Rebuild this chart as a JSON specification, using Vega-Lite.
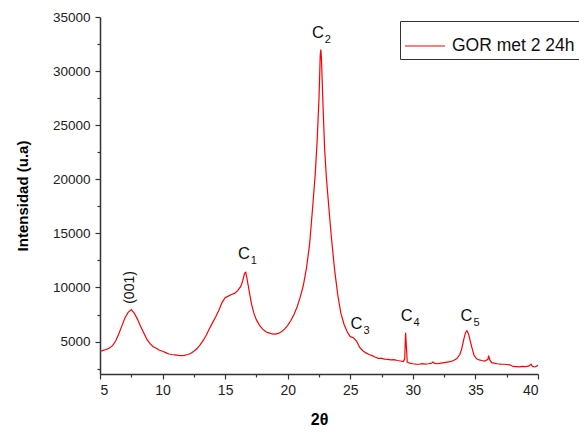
{
  "$schema": "https://vega.github.io/schema/vega-lite/v6.json",
  "autosize": "none",
  "width": 438,
  "height": 357,
  "padding": {"left": 100, "top": 17, "right": 41, "bottom": 58},
  "background": "white",
  "config": {
    "view": {"stroke": null},
    "font": "Liberation Sans",
    "axis": {"grid": false, "domainColor": "#333333", "tickColor": "#333333", "domainWidth": 1.5, "tickWidth": 1.2, "labelColor": "#222222", "labelFont": "Liberation Sans", "titleFont": "Liberation Sans", "titleColor": "#000000"}
  },
  "datasets": {
    "xrd": [
      {"t": 5.0, "i": 4100}, {"t": 5.25, "i": 4180}, {"t": 5.5, "i": 4260}, {"t": 5.75, "i": 4400},
      {"t": 6.0, "i": 4620}, {"t": 6.25, "i": 5050}, {"t": 6.5, "i": 5700}, {"t": 6.75, "i": 6450},
      {"t": 7.0, "i": 7200}, {"t": 7.25, "i": 7700}, {"t": 7.5, "i": 7950}, {"t": 7.75, "i": 7600},
      {"t": 8.0, "i": 7050}, {"t": 8.25, "i": 6400}, {"t": 8.5, "i": 5800}, {"t": 8.75, "i": 5200},
      {"t": 9.0, "i": 4800}, {"t": 9.25, "i": 4520}, {"t": 9.5, "i": 4380}, {"t": 9.75, "i": 4200},
      {"t": 10.0, "i": 4100}, {"t": 10.25, "i": 3980}, {"t": 10.5, "i": 3850}, {"t": 10.75, "i": 3800},
      {"t": 11.0, "i": 3760}, {"t": 11.25, "i": 3720}, {"t": 11.5, "i": 3700}, {"t": 11.75, "i": 3730},
      {"t": 12.0, "i": 3800}, {"t": 12.25, "i": 3900}, {"t": 12.5, "i": 4100}, {"t": 12.75, "i": 4350},
      {"t": 13.0, "i": 4700}, {"t": 13.25, "i": 5100}, {"t": 13.5, "i": 5600}, {"t": 13.75, "i": 6200},
      {"t": 14.0, "i": 6750}, {"t": 14.25, "i": 7300}, {"t": 14.5, "i": 7900}, {"t": 14.75, "i": 8600},
      {"t": 15.0, "i": 9050}, {"t": 15.25, "i": 9200}, {"t": 15.5, "i": 9350}, {"t": 15.75, "i": 9450},
      {"t": 16.0, "i": 9700}, {"t": 16.25, "i": 10100}, {"t": 16.4, "i": 10600}, {"t": 16.55, "i": 11300},
      {"t": 16.65, "i": 11400}, {"t": 16.75, "i": 10800}, {"t": 16.9, "i": 9800}, {"t": 17.1, "i": 8500},
      {"t": 17.3, "i": 7600}, {"t": 17.5, "i": 7000}, {"t": 17.75, "i": 6500}, {"t": 18.0, "i": 6150},
      {"t": 18.25, "i": 5900}, {"t": 18.5, "i": 5800}, {"t": 18.75, "i": 5700}, {"t": 19.0, "i": 5680},
      {"t": 19.25, "i": 5750}, {"t": 19.5, "i": 5900}, {"t": 19.75, "i": 6150}, {"t": 20.0, "i": 6500},
      {"t": 20.25, "i": 6950}, {"t": 20.5, "i": 7500}, {"t": 20.75, "i": 8200}, {"t": 21.0, "i": 9100},
      {"t": 21.25, "i": 10200}, {"t": 21.5, "i": 11800}, {"t": 21.75, "i": 14000}, {"t": 22.0, "i": 17500},
      {"t": 22.2, "i": 20500}, {"t": 22.35, "i": 23500}, {"t": 22.5, "i": 27500}, {"t": 22.6, "i": 31500},
      {"t": 22.65, "i": 32000}, {"t": 22.7, "i": 31000}, {"t": 22.8, "i": 27500}, {"t": 22.95, "i": 22800},
      {"t": 23.1, "i": 20000}, {"t": 23.3, "i": 17200}, {"t": 23.5, "i": 14500}, {"t": 23.75, "i": 11600},
      {"t": 24.0, "i": 9300}, {"t": 24.25, "i": 7600}, {"t": 24.5, "i": 6600}, {"t": 24.75, "i": 5900},
      {"t": 25.0, "i": 5450}, {"t": 25.25, "i": 5350}, {"t": 25.5, "i": 5050}, {"t": 25.75, "i": 4450},
      {"t": 26.0, "i": 4150}, {"t": 26.25, "i": 3950}, {"t": 26.5, "i": 3800}, {"t": 26.75, "i": 3700},
      {"t": 27.0, "i": 3550}, {"t": 27.25, "i": 3450}, {"t": 27.5, "i": 3450}, {"t": 27.75, "i": 3380},
      {"t": 28.0, "i": 3350}, {"t": 28.25, "i": 3300}, {"t": 28.5, "i": 3330}, {"t": 28.75, "i": 3250},
      {"t": 29.0, "i": 3200}, {"t": 29.25, "i": 3150}, {"t": 29.35, "i": 3400}, {"t": 29.42, "i": 5800},
      {"t": 29.5, "i": 4200}, {"t": 29.55, "i": 3100}, {"t": 29.75, "i": 3000}, {"t": 30.0, "i": 2950},
      {"t": 30.25, "i": 2920}, {"t": 30.5, "i": 2900}, {"t": 30.75, "i": 2950}, {"t": 31.0, "i": 2920},
      {"t": 31.25, "i": 2950}, {"t": 31.5, "i": 3000}, {"t": 31.6, "i": 3100}, {"t": 31.75, "i": 2980},
      {"t": 32.0, "i": 2950}, {"t": 32.25, "i": 3000}, {"t": 32.5, "i": 3050}, {"t": 32.75, "i": 3100},
      {"t": 33.0, "i": 3150}, {"t": 33.25, "i": 3250}, {"t": 33.5, "i": 3400}, {"t": 33.75, "i": 3800},
      {"t": 33.9, "i": 4300}, {"t": 34.05, "i": 5100}, {"t": 34.2, "i": 5800}, {"t": 34.32, "i": 6000},
      {"t": 34.45, "i": 5700}, {"t": 34.6, "i": 5000}, {"t": 34.75, "i": 4300}, {"t": 34.9, "i": 3700},
      {"t": 35.1, "i": 3400}, {"t": 35.3, "i": 3300}, {"t": 35.5, "i": 3250}, {"t": 35.75, "i": 3200},
      {"t": 36.0, "i": 3350}, {"t": 36.05, "i": 3700}, {"t": 36.15, "i": 3300}, {"t": 36.3, "i": 3050},
      {"t": 36.5, "i": 3000}, {"t": 36.75, "i": 2950}, {"t": 37.0, "i": 2920}, {"t": 37.25, "i": 2900},
      {"t": 37.5, "i": 2880}, {"t": 37.75, "i": 2850}, {"t": 38.0, "i": 2700}, {"t": 38.25, "i": 2680},
      {"t": 38.5, "i": 2660}, {"t": 38.75, "i": 2700}, {"t": 39.0, "i": 2680}, {"t": 39.25, "i": 2720},
      {"t": 39.45, "i": 2900}, {"t": 39.55, "i": 2700}, {"t": 39.75, "i": 2650}, {"t": 40.0, "i": 2800}
    ],
    "peaks": [
      {"t": 16.5, "i": 13080, "main": "C", "sub": "1"},
      {"t": 22.41, "i": 33530, "main": "C", "sub": "2"},
      {"t": 25.5, "i": 6640, "main": "C", "sub": "3"},
      {"t": 29.5, "i": 7400, "main": "C", "sub": "4"},
      {"t": 34.29, "i": 7400, "main": "C", "sub": "5"}
    ],
    "hkl": [
      {"t": 7.4, "i": 10000, "label": "(001)"}
    ]
  },
  "layer": [
    {
      "data": {"name": "xrd"},
      "mark": {"type": "line", "strokeWidth": 1.2, "interpolate": "linear"},
      "encoding": {
        "x": {"field": "t", "type": "quantitative", "scale": {"domain": [5, 40], "nice": false, "zero": false},
              "axis": {"title": "2θ", "values": [5, 10, 15, 20, 25, 30, 35, 40], "format": "d", "tickSize": 5, "labelFontSize": 14, "labelPadding": 4, "titleFontSize": 16, "titleFontWeight": "bold", "titlePadding": 14}},
        "y": {"field": "i", "type": "quantitative", "scale": {"domain": [2000, 35000], "nice": false, "zero": false},
              "axis": {"title": "Intensidad (u.a)", "values": [5000, 10000, 15000, 20000, 25000, 30000, 35000], "format": "d", "tickSize": 5, "labelFontSize": 13.5, "labelPadding": 5, "titleFontSize": 15, "titleFontWeight": "bold", "titlePadding": 22}},
        "color": {"datum": "GOR met 2 24h", "type": "nominal", "scale": {"range": ["#ff0000"]},
                  "legend": {"title": null, "orient": "none", "legendX": 300, "legendY": 4, "symbolType": "stroke", "symbolSize": 1600, "symbolStrokeWidth": 1.2, "labelFontSize": 17.5, "labelColor": "#111111", "strokeColor": "#333333", "padding": 4, "labelOffset": 6, "rowPadding": 0}}
      }
    },
    {
      "data": {"name": "peaks"},
      "mark": {"type": "text", "fontSize": 16.5, "align": "center", "baseline": "middle", "color": "#111111"},
      "encoding": {
        "x": {"field": "t", "type": "quantitative", "axis": {"orient": "bottom", "values": [7.5, 12.5, 17.5, 22.5, 27.5, 32.5, 37.5], "labels": false, "domain": false, "tickSize": 3, "title": null}},
        "y": {"field": "i", "type": "quantitative", "axis": {"orient": "left", "values": [2500, 7500, 12500, 17500, 22500, 27500, 32500], "labels": false, "domain": false, "tickSize": 3, "title": null}},
        "text": {"field": "main"}
      }
    },
    {
      "data": {"name": "peaks"},
      "mark": {"type": "text", "fontSize": 11, "align": "center", "baseline": "middle", "dx": 10, "dy": 7, "color": "#111111"},
      "encoding": {
        "x": {"field": "t", "type": "quantitative", "axis": null},
        "y": {"field": "i", "type": "quantitative", "axis": null},
        "text": {"field": "sub"}
      }
    },
    {
      "data": {"name": "hkl"},
      "mark": {"type": "text", "fontSize": 14, "align": "center", "baseline": "middle", "angle": 270, "color": "#111111"},
      "encoding": {
        "x": {"field": "t", "type": "quantitative", "axis": null},
        "y": {"field": "i", "type": "quantitative", "axis": null},
        "text": {"field": "label"}
      }
    }
  ],
  "resolve": {"axis": {"x": "independent", "y": "independent"}}
}
